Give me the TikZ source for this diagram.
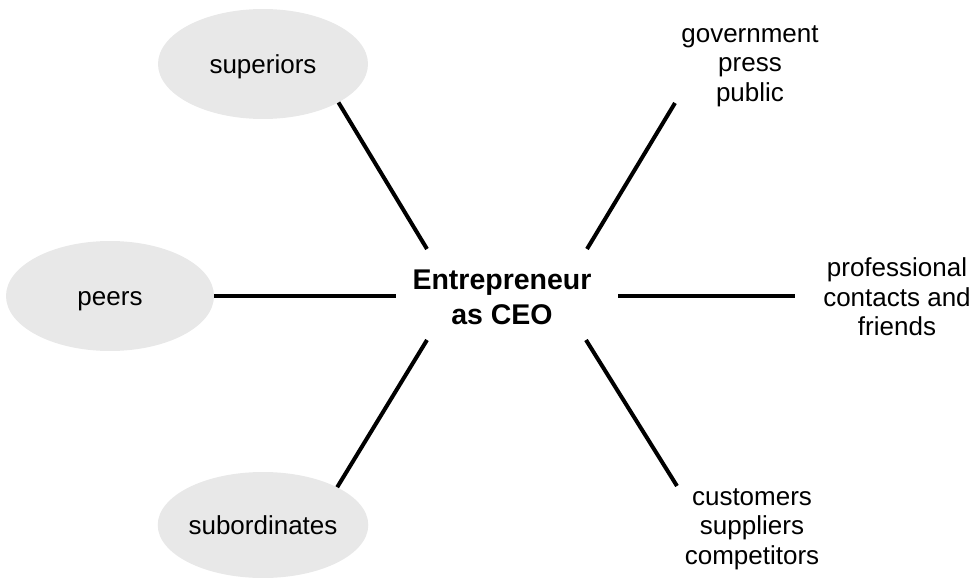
\documentclass[tikz,border=0pt]{standalone}
\usepackage{fontspec}
\setmainfont{Liberation Sans}
\usetikzlibrary{shapes.geometric}
\definecolor{bubble}{RGB}{232,232,232}
\tikzset{
  bubble/.style={ellipse, fill=bubble, draw=none, inner sep=0pt,
    minimum width=210pt, minimum height=110pt,
    font=\fontsize{26}{29}\selectfont, text height=19pt, text depth=0pt},
  label/.style={align=center, inner sep=0pt, font=\fontsize{26}{29.5}\selectfont},
  link/.style={line width=4pt, black}
}
\begin{document}
\begin{tikzpicture}[x=1pt,y=-1pt]
\useasboundingbox (0,0) rectangle (978,578);
\node[bubble] (sup) at (263,64) {superiors};
\node[bubble, minimum width=208pt] (peers) at (110,296) {peers};
\node[bubble, minimum height=106pt] (sub) at (263,525) {subordinates};
\node[align=center, inner sep=0pt, font=\fontsize{28.5}{35}\selectfont\bfseries] (ceo) at (502,297) {Entrepreneur\\as CEO};
\node[label] (gov) at (750,66) {government\\press\\public};
\node[label] (prof) at (897,297) {professional\\contacts and\\friends};
\node[label] (cust) at (752,529) {customers\\suppliers\\competitors};
\coordinate (c1) at (427,249);
\coordinate (c2) at (396,296);
\coordinate (c3) at (427,340);
\coordinate (c4) at (587,249);
\coordinate (c5) at (675,103);
\coordinate (c6) at (618,296);
\coordinate (c7) at (795,296);
\coordinate (c8) at (586,340);
\coordinate (c9) at (677,486);
\draw[link] (sup.-27.5) -- (c1);
\draw[link] (peers.east) -- (c2);
\draw[link] (sub.27.5) -- (c3);
\draw[link] (c4) -- (c5);
\draw[link] (c6) -- (c7);
\draw[link] (c8) -- (c9);
\end{tikzpicture}
\end{document}
